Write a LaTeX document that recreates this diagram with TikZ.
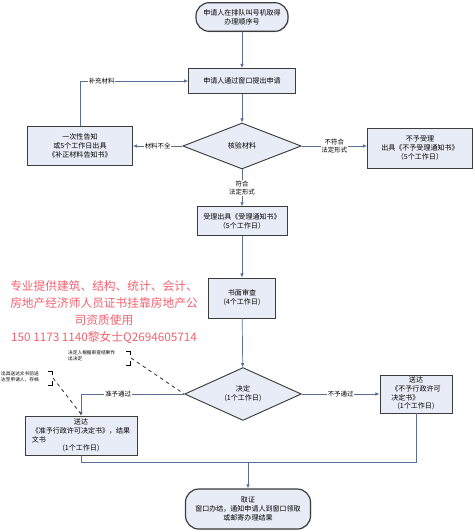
\documentclass[tikz,border=0pt]{standalone}
\usepackage{fontspec}
\setmainfont{Noto Sans CJK SC}
\usepackage{tikz}
\usetikzlibrary{calc}
\usetikzlibrary{arrows.meta,shapes,shadows}
\usetikzlibrary{positioning}

\definecolor{boxfill}{RGB}{232,236,246}
\definecolor{boxline}{RGB}{60,60,60}
\definecolor{linkline}{RGB}{88,110,150}
\definecolor{markred}{RGB}{242,98,112}

\begin{document}
\begin{tikzpicture}[x=0.03cm,y=-0.03cm]
      \tikzstyle{every node}=[font=\fontsize{6}{7.5}\selectfont,align=center,inner sep=1pt]
      \tikzstyle{box}=[rectangle,draw=boxline,fill=boxfill,line width=0.8pt,drop shadow={opacity=0.25,shadow xshift=0.8pt,shadow yshift=-0.8pt}]
      \tikzstyle{ends}=[box,rounded corners=0.4cm,line width=1pt]
      \tikzstyle{check}=[diamond,draw=boxline,fill=boxfill,line width=0.8pt,inner sep=0pt]
      \tikzstyle{link}=[draw=linkline,line width=0.6pt,-{Latex[length=3.5pt,width=3pt]}]
      \tikzstyle{plain}=[draw=linkline,line width=0.6pt]
      \tikzstyle{lbl}=[fill=white,font=\fontsize{5.5}{6.5}\selectfont,inner sep=0.8pt]
      \tikzstyle{note}=[font=\fontsize{4}{5}\selectfont,align=left,inner sep=0pt]
      \tikzstyle{hint}=[draw=black!80,line width=0.7pt,dashed]
      \tikzstyle{adtext}=[text=markred,font=\fontsize{10}{14.5}\selectfont]
      \useasboundingbox (0,0) rectangle (474,532);

      % main column
      \node[ends,minimum width=2.76cm,minimum height=0.86cm] (queue) at (242,17) {申请人在排队叫号机取得\\办理顺序号};
      \node[box,minimum width=3.2cm,minimum height=0.75cm] (apply) at (242,81) {申请人通过窗口提出申请};
      \node[check,minimum width=3.55cm,minimum height=1.38cm] (verify) at (242,146) {核验材料};
      \node[box,minimum width=2.7cm,minimum height=0.85cm] (accept) at (242,221) {受理出具《受理通知书》\\（5个工作日）};
      \node[box,minimum width=2.0cm,minimum height=1.2cm] (review) at (242,298) {书面审查\\(4个工作日)};
      \node[check,minimum width=3.5cm,minimum height=1.15cm] (decide) at (243,394) {决定\\(1个工作日)};
      \node[ends,minimum width=3.75cm,minimum height=1.2cm] (issue) at (248,509) {取证\\窗口办结，通知申请人到窗口领取\\或邮寄办理结果};

      % side boxes
      \node[box,minimum width=3.15cm,minimum height=1.17cm] (notify) at (80,146) {一次性告知\\或5个工作日出具\\《补正材料告知书》};
      \node[box,minimum width=3.15cm,minimum height=1.2cm] (reject) at (420,148) {不予受理\\出具《不予受理通知书》\\（5个工作日）};
      \node[box,minimum width=3.36cm,minimum height=1.17cm] (grant) at (81,436) {\begin{tabular}{@{}l@{}}\multicolumn{1}{@{}c@{}}{送达}\\《准予行政许可决定书》，结果\\文书\\\multicolumn{1}{@{}c@{}}{(1个工作日)}\end{tabular}};
      \node[box,minimum width=2.16cm,minimum height=1.14cm] (deny) at (416,394) {\begin{tabular}{@{}l@{}}\multicolumn{1}{@{}c@{}}{送达}\\《不予行政许可\\决定书》\\\multicolumn{1}{@{}c@{}}{(1个工作日)}\end{tabular}};

      \draw[link] (queue) -- (apply);
      \draw[link] (apply) -- (verify);
      \draw[link] (verify.west) -- node[lbl]{材料不全} (verify.west -| notify.east);
      \draw[link] (notify.north) |- node[lbl,pos=0.6]{补充材料} (apply.west);
      \draw[link] (verify.east) -- node[lbl]{不符合\\法定形式} (verify.east -| reject.west);
      \draw[link] (verify.south) -- node[lbl]{符合\\法定形式} (accept.north);
      \draw[link] (accept) -- (review);
      \draw[link] (review) -- (decide);
      \draw[link] (decide.west) -| node[lbl,pos=0.32]{准予通过} (grant.north);
      \draw[link] (decide.east) -- node[lbl]{不予通过} (decide.east -| deny.west);
      \coordinate (merge) at (248,462);
      \draw[plain] (grant.south) |- (merge);
      \draw[plain] (deny.south) |- (merge);
      \draw[link] (merge) -- (issue.north);

      % notes
      \node[note,anchor=west] (note1) at (68,356) {决定人根据审查结果作\\出决定};
      \node[note,anchor=west] (note2) at (1,377) {出具送达文书前送\\达至申请人，存档};
      \draw[line width=0.7pt] (126,351) -- (130,351) -- (130,355) (130,361) -- (130,365) -- (126,365);
      \draw[line width=0.7pt] (48,371) -- (52,371) -- (52,375) (52,381) -- (52,385) -- (48,385);
      \coordinate (hint1) at (131,358);
      \coordinate (hint2) at (53,378);
      \draw[hint] (hint1) -- (decide.west);
      \draw[hint] (hint2) -- ($(grant.north)+(0,-2)$);

      \node[adtext] (ad) at (104,312) {专业提供建筑、结构、统计、会计、\\房地产经济师人员证书挂靠房地产公\\司资质使用\\150 1173 1140黎女士Q2694605714};
\end{tikzpicture}
\end{document}
